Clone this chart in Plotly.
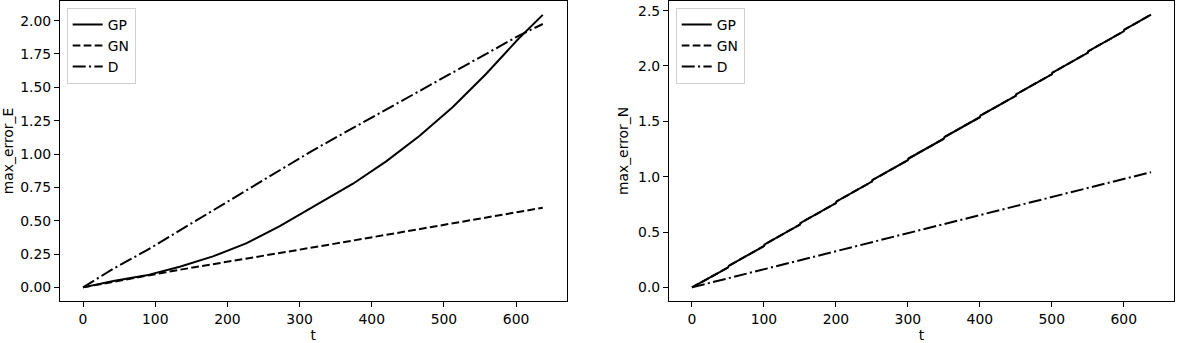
import plotly.graph_objects as go
from plotly.subplots import make_subplots

# left panel: max_error_E vs t
t_E = [0, 42, 88, 134, 180, 226, 272, 318, 374, 420, 466, 512, 558, 604, 637]
gp_E = [0.0, 0.047, 0.090, 0.155, 0.232, 0.330, 0.457, 0.602, 0.777, 0.945,
        1.135, 1.350, 1.598, 1.868, 2.043]
t_GN = [0, 50, 134, 341, 637]
gn_E = [0.0, 0.049, 0.132, 0.320, 0.597]
t_DE = [0, 42, 88, 180, 318, 604, 637]
d_E = [0.0, 0.140, 0.277, 0.577, 1.026, 1.888, 1.975]

# right panel: max_error_N vs t (small steps every ~50)
t_N = [0, 50, 51, 100, 101, 150, 151, 200, 201, 250, 251, 300, 301,
       350, 351, 400, 401, 450, 451, 500, 501, 550, 551, 600, 601, 638]
gp_N = [0.0, 0.179, 0.194, 0.373, 0.388, 0.567, 0.582, 0.761, 0.776,
        0.955, 0.970, 1.149, 1.164, 1.343, 1.358, 1.537, 1.552, 1.731,
        1.746, 1.925, 1.940, 2.119, 2.134, 2.313, 2.328, 2.464]
gn_N = [0.0, 0.179, 0.194, 0.373, 0.388, 0.567, 0.582, 0.761, 0.776,
        0.955, 0.970, 1.149, 1.164, 1.343, 1.358, 1.537, 1.552, 1.731,
        1.746, 1.925, 1.940, 2.119, 2.134, 2.313, 2.328, 2.464]
t_DN = [0, 50, 100, 150, 200, 250, 300, 350, 400, 450, 500, 550, 600, 638]
d_N = [0.0, 0.082, 0.164, 0.245, 0.327, 0.408, 0.490, 0.571, 0.653,
       0.734, 0.816, 0.898, 0.979, 1.041]

FONT = "DejaVu Sans"
DASH = "7.7px,3.3px"
DASHDOT = "13px,3.3px,2.1px,3.3px"

fig = make_subplots(rows=1, cols=2, horizontal_spacing=0.0918)

def add_panel(col, t_gp, gp, t_gn, gn, t_d, d, legend):
    fig.add_trace(go.Scatter(x=t_gp, y=gp, name="GP", mode="lines",
                             line=dict(color="black", width=2),
                             legend=legend), row=1, col=col)
    fig.add_trace(go.Scatter(x=t_gn, y=gn, name="GN", mode="lines",
                             line=dict(color="black", width=2, dash=DASH),
                             legend=legend), row=1, col=col)
    fig.add_trace(go.Scatter(x=t_d, y=d, name="D", mode="lines",
                             line=dict(color="black", width=2, dash=DASHDOT),
                             legend=legend), row=1, col=col)

add_panel(1, t_E, gp_E, t_GN, gn_E, t_DE, d_E, "legend")
add_panel(2, t_N, gp_N, t_N, gn_N, t_DN, d_N, "legend2")

axis_style = dict(showline=True, linecolor="black", linewidth=1.1, mirror=True,
                  ticks="outside", ticklen=5, tickwidth=1.1, tickcolor="black",
                  showgrid=False, zeroline=False,
                  tickfont=dict(family=FONT, size=13.9, color="black"))

fig.update_xaxes(**axis_style, dtick=100, range=[-31.9, 669.9],
                 title=dict(text="t", font=dict(family=FONT, size=13.9, color="black"),
                            standoff=0))
fig.update_xaxes(domain=[0, 0.4547], row=1, col=1)
fig.update_xaxes(domain=[0.5467, 1], row=1, col=2)

fig.update_yaxes(**axis_style)
fig.update_yaxes(range=[-0.1023, 2.1473], dtick=0.25, tickformat=".2f",
                 title=dict(text="max_error_E", font=dict(family=FONT, size=13.9, color="black"),
                            standoff=6), row=1, col=1)
fig.update_yaxes(range=[-0.1232, 2.587], dtick=0.5, tickformat=".1f",
                 title=dict(text="max_error_N", font=dict(family=FONT, size=13.9, color="black"),
                            standoff=6), row=1, col=2)

legend_style = dict(bgcolor="white", bordercolor="#d0d0d0", borderwidth=1,
                    font=dict(family=FONT, size=13.9, color="black"),
                    xanchor="left", yanchor="top", y=0.977, itemwidth=30)

fig.update_layout(
    width=1179, height=343,
    margin=dict(l=60, r=5, t=1, b=42),
    plot_bgcolor="white", paper_bgcolor="white",
    legend=dict(**legend_style, x=0.006),
    legend2=dict(**legend_style, x=0.5527),
)

# drop the page's default body margin so the figure sits at the window corner
fig.write_html("out.html", config={"displayModeBar": False},
               post_script="document.body.style.margin='0px';")
